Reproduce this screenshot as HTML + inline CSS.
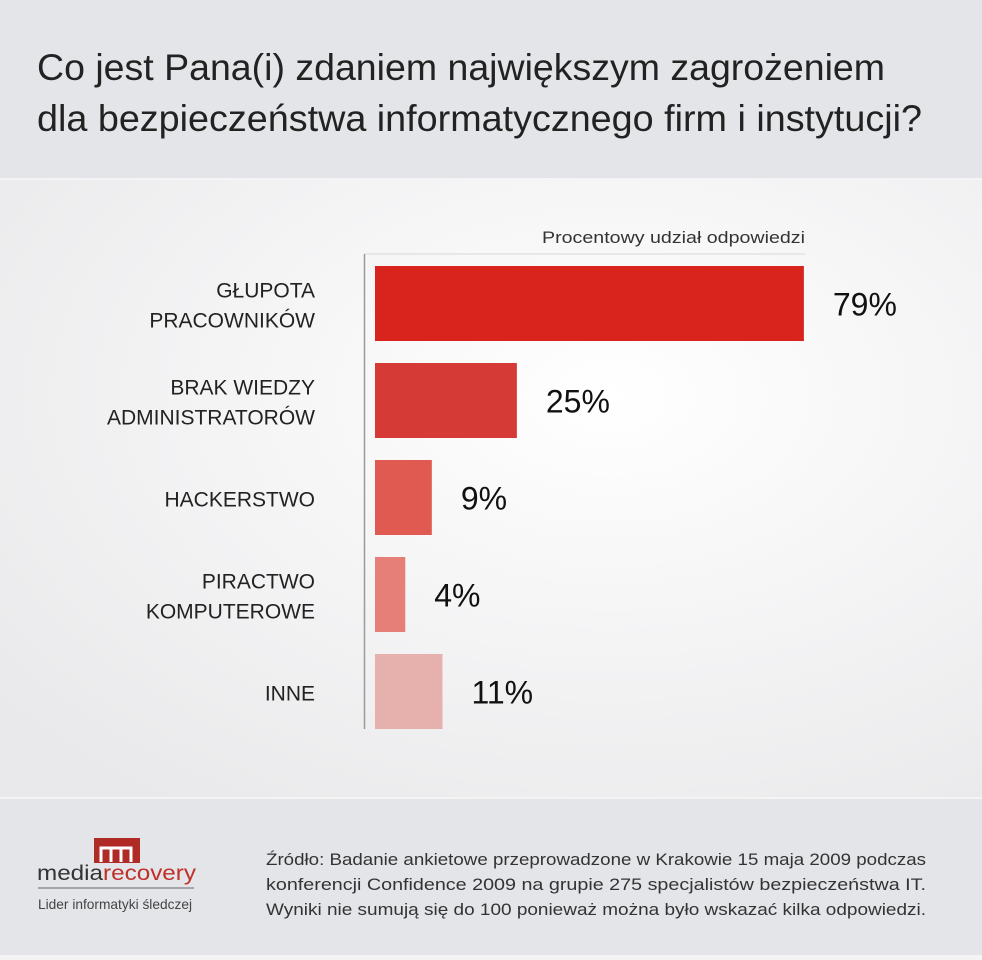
<!DOCTYPE html>
<html><head><meta charset="utf-8"><style>
html,body{margin:0;padding:0;background:#fff}
svg{display:block}
text{font-family:"Liberation Sans Narrow","Liberation Sans",sans-serif}
</style></head><body>
<svg id="chart" width="982" height="960" viewBox="0 0 982 960" xmlns="http://www.w3.org/2000/svg">
<defs>
<radialGradient id="bg" cx="0.62" cy="0.35" r="0.8">
<stop offset="0" stop-color="#ffffff"/><stop offset="1" stop-color="#e9e9eb"/>
</radialGradient>
</defs>
<rect x="0" y="0" width="982" height="960" fill="#f4f4f5"/>
<rect x="0" y="0" width="982" height="178" fill="#e4e5e8"/>
<rect x="0" y="180" width="982" height="617" fill="url(#bg)"/>
<rect x="0" y="799" width="982" height="156" fill="#e4e5e8"/>
<text x="37" y="80" font-size="37" fill="#222" textLength="848" lengthAdjust="spacingAndGlyphs">Co jest Pana(i) zdaniem największym zagrożeniem</text>
<text x="37" y="131" font-size="37" fill="#222" textLength="885" lengthAdjust="spacingAndGlyphs">dla bezpieczeństwa informatycznego firm i instytucji?</text>
<text x="805" y="243" font-size="17" fill="#333" text-anchor="end" textLength="263" lengthAdjust="spacingAndGlyphs">Procentowy udział odpowiedzi</text>
<line x1="364" y1="254" x2="805" y2="254" stroke="#d8d8d8" stroke-width="1"/>
<line x1="364.5" y1="254" x2="364.5" y2="729" stroke="#9a9a9a" stroke-width="1.5"/>
<g id="bars"></g>
<g>
<rect x="94" y="838" width="46" height="25" fill="#b02a26"/>
<path d="M101 862 V848 H131 V862 M111 848 V862 M121 848 V862" stroke="#fff" stroke-width="3" fill="none"/>
<text x="37" y="880" font-size="21" fill="#333" textLength="159" lengthAdjust="spacingAndGlyphs">media<tspan fill="#c0302a">recovery</tspan></text>
<line x1="38" y1="888" x2="194" y2="888" stroke="#666" stroke-width="1"/>
<text x="38" y="909" font-size="14" fill="#444" textLength="154" lengthAdjust="spacingAndGlyphs">Lider informatyki śledczej</text>
</g>
<g font-size="17" fill="#333">
<text x="266" y="865" textLength="660" lengthAdjust="spacingAndGlyphs">Źródło: Badanie ankietowe przeprowadzone w Krakowie 15 maja 2009 podczas</text>
<text x="266" y="890" textLength="660" lengthAdjust="spacingAndGlyphs">konferencji Confidence 2009 na grupie 275 specjalistów bezpieczeństwa IT.</text>
<text x="266" y="915" textLength="660" lengthAdjust="spacingAndGlyphs">Wyniki nie sumują się do 100 ponieważ można było wskazać kilka odpowiedzi.</text>
</g>
</svg>
<script>
const categories = [["GŁUPOTA","PRACOWNIKÓW"],["BRAK WIEDZY","ADMINISTRATORÓW"],["HACKERSTWO"],["PIRACTWO","KOMPUTEROWE"],["INNE"]];
const values = [79, 25, 9, 4, 11];
const valueLabels = ["79%","25%","9%","4%","11%"];
const colors = ["#d9231d","#d63a36","#e05a52","#e57f78","#e6b0ad"];
const NS = "http://www.w3.org/2000/svg";
const x0 = 375;
function xScale(v){ return 5.315 * v + 9; }
function yBand(i){ return 266 + i * 97; }
const bandH = 75;
const g = document.getElementById('bars');
values.forEach((v, i) => {
  const y = yBand(i), w = xScale(v);
  const r = document.createElementNS(NS, 'rect');
  r.setAttribute('x', x0); r.setAttribute('y', y);
  r.setAttribute('width', w); r.setAttribute('height', bandH);
  r.setAttribute('fill', colors[i]);
  
  
  g.appendChild(r);
  const t = document.createElementNS(NS, 'text');
  t.setAttribute('x', x0 + w + 29); t.setAttribute('y', y + bandH / 2 + 12);
  t.setAttribute('font-size', '32'); t.setAttribute('fill', '#111');
  t.setAttribute('style', 'font-family:"Liberation Sans",sans-serif');
  t.textContent = valueLabels[i];
  
  
  g.appendChild(t);
  const lines = categories[i];
  lines.forEach((ln, j) => {
    const c = document.createElementNS(NS, 'text');
    const cy = y + bandH / 2 + 9 + (j - (lines.length - 1) / 2) * 30;
    c.setAttribute('x', 315); c.setAttribute('y', cy);
    c.setAttribute('font-size', '21'); c.setAttribute('fill', '#222');
    c.setAttribute('text-anchor', 'end');
    c.textContent = ln;
    
    
    g.appendChild(c);
  });
});
</script>
</body></html>
